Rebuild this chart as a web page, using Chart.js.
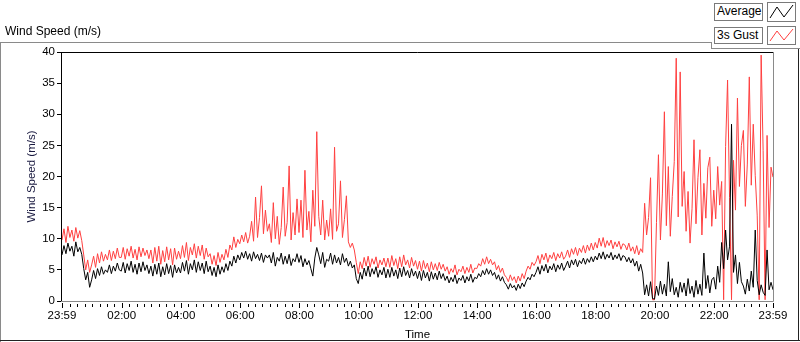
<!DOCTYPE html>
<html>
<head>
<meta charset="utf-8">
<script src="https://cdn.jsdelivr.net/npm/chart.js@4.4.1/dist/chart.umd.min.js"></script>
<style>
  body { margin: 0; background: #fff; }
  #wrap { position: relative; width: 800px; height: 342px; overflow: hidden; font-family: "Liberation Sans", Arial, sans-serif; }
  #chart { position: absolute; left: 0; top: 0; }
  .ln { position: absolute; }
  .lg { position: absolute; box-sizing: border-box; border: 1px solid #7a7a7a; background: #fff; font-size: 12px; line-height: 15px; padding-left: 2px; color: #000; }
  .ic { position: absolute; box-sizing: border-box; border: 1px solid #7a7a7a; background: #fff; }
  #title { position: absolute; left: 5px; top: 24px; font-size: 12px; color: #000; }
</style>
</head>
<body>
<div id="wrap">
  <canvas id="chart" width="800" height="342"></canvas>
  <!-- marco exterior -->
  <div class="ln" style="left:0;top:42px;width:711px;height:1px;background:#8a8a8a"></div>
  <div class="ln" style="left:0;top:42px;width:1px;height:300px;background:#8a8a8a"></div>
  <div class="ln" style="left:0;top:340px;width:800px;height:1px;background:#222"></div>
  <div class="ln" style="left:798px;top:49px;width:1px;height:292px;background:#222"></div>
  <div class="ln" style="left:711px;top:42px;width:1px;height:7px;background:#8a8a8a"></div>
  <div class="ln" style="left:711px;top:48px;width:89px;height:1px;background:#8a8a8a"></div>
  <div id="title">Wind Speed (m/s)</div>
  <!-- leyenda -->
  <div class="lg" style="left:714px;top:3px;width:49px;height:18px">Average</div>
  <div class="ic" style="left:767px;top:2px;width:29px;height:20px">
    <svg width="27" height="18"><polyline points="2,15 9,4 16,14 25,2" fill="none" stroke="#000" stroke-width="1"/></svg>
  </div>
  <div class="lg" style="left:714px;top:27px;width:49px;height:17px">3s Gust</div>
  <div class="ic" style="left:767px;top:26px;width:29px;height:19px">
    <svg width="27" height="17"><polyline points="2,14 9,4 16,13 25,2" fill="none" stroke="#ff4040" stroke-width="1"/></svg>
  </div>
</div>
<script>
// Datos: una muestra cada 4 minutos desde las 23:59 (minuto 0) hasta las 23:59 (minuto 1440)
// Cada fila = 1 hora (15 muestras)
const stepMin = 4;

const avgSpeed = [
  7.4, 8.9, 7.6, 9.3, 8.0, 8.8, 7.2, 9.5, 7.9, 8.6, 7.5, 5.2, 3.4, 4.6, 2.2,
  3.4, 4.9, 3.6, 5.2, 4.1, 5.5, 4.3, 5.0, 4.6, 5.8, 4.4, 5.6, 4.8, 6.1, 5.0,
  4.8, 6.2, 4.5, 6.0, 4.9, 6.4, 4.6, 5.9, 4.3, 6.1, 4.7, 6.3, 4.9, 5.8, 4.4,
  5.6, 4.0, 5.9, 4.3, 6.1, 3.9, 5.5, 4.2, 6.0, 4.4, 5.7, 3.8, 5.8, 4.5, 5.4,
  4.5, 6.2, 4.8, 6.5, 4.3, 6.0, 5.0, 6.6, 4.6, 6.3, 4.9, 6.1, 4.4, 6.4, 4.7,
  5.6, 4.1, 5.4, 3.9, 5.8, 4.3, 5.5, 4.6, 6.0, 4.9, 6.4, 5.6, 7.2, 6.1, 7.4,
  6.6, 7.8, 6.9, 8.0, 6.7, 7.6, 6.4, 7.9, 6.8, 7.5, 6.5, 7.7, 6.2, 7.4, 6.9,
  7.4, 6.1, 7.8, 5.6, 7.0, 6.4, 7.7, 5.9, 7.2, 6.0, 7.5, 5.7, 6.8, 6.3, 7.6,
  6.2, 7.3, 5.5, 6.8, 5.8, 6.5, 5.2, 4.0, 6.9, 8.6, 7.4, 6.0, 7.8, 5.4, 6.7,
  6.4, 7.7, 5.9, 7.4, 6.1, 7.0, 5.8, 7.6, 6.2, 6.9, 5.6, 6.4, 5.3, 5.8, 3.6,
  2.8, 4.6, 3.5, 5.3, 4.0, 5.6, 3.9, 5.2, 4.3, 5.5, 3.8, 5.0, 4.2, 5.4, 3.7,
  5.1, 3.8, 5.4, 4.0, 5.0, 3.6, 5.3, 3.9, 5.5, 4.1, 4.9, 3.7, 5.2, 4.0, 4.8,
  3.6, 4.8, 3.3, 4.9, 3.7, 4.6, 3.2, 4.7, 3.5, 4.5, 3.4, 4.8, 3.6, 4.4, 3.3,
  4.0, 2.9, 3.8, 3.1, 4.2, 2.8, 3.7, 3.3, 4.1, 2.9, 3.9, 3.2, 4.3, 3.0, 3.8,
  3.6, 4.4, 3.9, 4.9, 4.2, 5.2, 4.3, 5.0, 4.1, 4.6, 3.5, 4.2, 3.2, 3.9, 3.0,
  2.6, 1.9, 2.8, 2.1, 2.5, 1.7, 2.7, 2.0, 2.9, 2.3, 3.2, 3.8, 3.4, 4.3, 3.9,
  4.6, 5.5, 4.3, 5.7, 4.8, 5.9, 4.5, 5.6, 5.0, 6.0, 4.7, 5.8, 5.1, 6.1, 4.9,
  5.6, 6.4, 5.3, 6.6, 5.8, 6.7, 5.5, 6.5, 6.0, 6.9, 5.9, 6.8, 6.2, 7.1, 6.3,
  7.2, 6.6, 7.7, 6.8, 7.9, 6.7, 7.5, 6.9, 7.8, 6.6, 7.4, 6.8, 7.6, 6.5, 7.3,
  7.1, 6.3, 7.0, 6.1, 6.8, 5.6, 6.4, 4.8, 5.9, 4.5, 1.0, 2.6, 0.8, 3.1, 0.4,
  0.3, 2.4, 0.9, 3.2, 1.1, 2.7, 0.8, 6.3, 1.5, 3.6, 1.0, 2.2, 0.6, 3.0, 1.4,
  2.9, 0.8, 3.6, 1.2, 2.4, 0.6, 3.3, 1.1, 2.7, 0.9, 7.7, 2.0, 4.1, 1.3, 3.4,
  3.8, 1.9, 5.6, 3.0, 9.4, 5.2, 11.4, 6.6, 8.8, 28.4, 4.6, 7.4, 2.8, 6.2, 3.1,
  2.4, 1.1, 3.5, 1.6, 4.8, 2.2, 11.4, 3.3, 1.0, 2.6, 1.4, 0.9, 8.2, 1.8, 3.0,
  1.8
];

const gustSpeed = [
  9.8, 11.6, 9.4, 12.0, 10.2, 11.4, 9.6, 11.8, 10.1, 11.3, 9.7, 7.4, 5.0, 6.6, 4.6,
  5.8, 7.2, 5.4, 7.6, 6.1, 7.9, 6.4, 7.5, 6.6, 8.2, 6.5, 8.0, 6.8, 8.5, 7.0,
  7.0, 8.6, 6.7, 8.4, 7.2, 8.8, 6.9, 8.3, 6.6, 8.7, 7.1, 8.5, 7.3, 8.2, 6.8,
  8.2, 6.1, 8.6, 6.4, 8.8, 5.9, 8.1, 6.3, 8.7, 6.6, 8.4, 5.8, 8.5, 6.7, 8.0,
  6.8, 8.9, 7.0, 9.4, 6.5, 8.6, 7.4, 9.2, 6.9, 8.8, 7.3, 9.0, 6.7, 8.5, 7.1,
  7.6, 5.9, 7.3, 5.7, 7.8, 6.2, 7.5, 6.6, 8.3, 7.0, 9.0, 8.2, 10.3, 8.6, 9.9,
  9.2, 10.6, 9.5, 11.0, 9.3, 10.4, 12.8, 9.6, 16.7, 10.2, 13.4, 18.5, 10.8, 14.6, 11.2,
  12.4, 9.4, 15.8, 10.0, 13.6, 9.1, 11.8, 18.3, 10.4, 12.6, 21.7, 9.8, 14.2, 10.6, 16.4,
  11.0, 16.2, 10.2, 21.0, 11.4, 14.4, 9.5, 17.8, 12.0, 27.2, 13.6, 10.6, 16.2, 9.8, 13.0,
  10.4, 14.8, 9.9, 24.7, 11.2, 12.4, 19.3, 10.2, 13.1, 16.9, 9.5, 8.6, 9.3, 8.2, 6.2,
  4.4, 6.3, 5.2, 7.0, 5.6, 7.2, 5.4, 6.8, 5.9, 7.1, 5.3, 6.6, 5.8, 6.9, 5.5,
  6.9, 5.4, 7.3, 5.7, 6.8, 5.2, 7.1, 5.5, 7.4, 5.8, 6.6, 5.3, 7.0, 5.6, 6.5,
  5.1, 6.4, 4.8, 6.5, 5.2, 6.1, 4.7, 6.3, 5.0, 6.0, 4.9, 6.2, 5.1, 5.9, 4.8,
  5.5, 4.3, 5.2, 4.6, 5.8, 4.2, 5.1, 4.7, 5.6, 4.4, 5.4, 4.6, 5.9, 4.5, 5.3,
  5.2, 6.0, 5.6, 6.8, 5.9, 7.1, 6.0, 6.7, 5.8, 6.3, 5.0, 5.7, 4.6, 5.3, 4.2,
  3.8, 3.1, 4.2, 3.3, 3.9, 2.9, 4.0, 3.2, 4.4, 3.6, 4.8, 5.6, 5.1, 6.2, 5.7,
  6.3, 7.3, 6.0, 7.5, 6.6, 7.7, 6.2, 7.4, 6.8, 7.8, 6.5, 7.6, 6.9, 7.9, 6.7,
  7.2, 8.2, 7.0, 8.4, 7.5, 8.6, 7.3, 8.5, 7.8, 8.9, 7.7, 9.0, 8.1, 9.3, 8.2,
  9.4, 8.5, 10.1, 8.8, 10.2, 8.6, 9.7, 8.9, 9.8, 8.4, 9.5, 8.7, 9.6, 8.3, 9.2,
  9.0, 8.2, 9.3, 8.0, 8.7, 7.6, 8.9, 7.4, 8.4, 7.8, 15.7, 10.6, 13.4, 19.8, 0.2,
  0.2, 12.6, 23.5, 9.8, 17.2, 30.4, 12.1, 21.6, 10.4, 16.8, 22.4, 39.0, 13.5, 36.8, 15.2,
  20.8, 11.2, 17.6, 9.3, 14.8, 25.9, 12.4, 19.8, 24.3, 10.6, 18.9, 13.3, 21.4, 23.1, 12.0,
  17.8, 13.2, 21.6, 15.4, 19.2, 0.2, 24.8, 35.5, 16.6, 0.2, 22.6, 14.6, 32.6, 18.4, 25.0,
  27.4, 15.2, 22.0, 36.0, 18.6, 28.4, 20.2, 13.8, 0.2, 39.5, 24.2, 0.2, 26.6, 11.8, 21.5,
  19.9
];

// Marcas del eje de tiempo (minutos desde las 23:59) y sus etiquetas
const tickMinutes = [0, 121, 241, 361, 481, 601, 721, 841, 961, 1081, 1201, 1321, 1440];
const tickLabels = ['23:59', '02:00', '04:00', '06:00', '08:00', '10:00', '12:00',
                    '14:00', '16:00', '18:00', '20:00', '22:00', '23:59'];

const fontAxis = { family: 'Liberation Sans', size: 11.5 };

function toPoints(arr) {
  return arr.map((v, i) => ({ x: i * stepMin, y: v }));
}

// Marco del área de trazado y marcas menores del eje X
const framePlugin = {
  id: 'frame',
  afterDraw(chart) {
    const { ctx, chartArea: a } = chart;
    const xs = chart.scales.x;
    ctx.save();
    ctx.lineWidth = 1;
    ctx.strokeStyle = '#000';
    ctx.beginPath();
    ctx.moveTo(a.left - 0.5, a.bottom);
    ctx.lineTo(a.left - 0.5, a.top + 0.5);
    ctx.lineTo(a.right, a.top + 0.5);
    ctx.stroke();
    ctx.strokeStyle = '#8a8a8a';
    ctx.beginPath();
    ctx.moveTo(a.right + 0.5, a.top);
    ctx.lineTo(a.right + 0.5, a.bottom + 0.5);
    ctx.lineTo(a.left - 1, a.bottom + 0.5);
    ctx.stroke();
    // marcas
    ctx.strokeStyle = '#000';
    ctx.beginPath();
    for (let m = 1; m < 1440; m += 15) {
      const px = Math.round(xs.getPixelForValue(m)) + 0.5;
      ctx.moveTo(px, a.bottom + 3);
      ctx.lineTo(px, a.bottom + 6);
    }
    tickMinutes.forEach(m => {
      const px = Math.round(xs.getPixelForValue(m)) + 0.5;
      ctx.moveTo(px, a.bottom + 2);
      ctx.lineTo(px, a.bottom + 7);
    });
    ctx.stroke();
    ctx.restore();
  }
};

new Chart(document.getElementById('chart'), {
  type: 'line',
  data: {
    datasets: [
      { label: 'Average', data: toPoints(avgSpeed), borderColor: '#000000', borderWidth: 1, pointRadius: 0, tension: 0 },
      { label: '3s Gust', data: toPoints(gustSpeed), borderColor: '#ff4040', borderWidth: 1, pointRadius: 0, tension: 0 }
    ]
  },
  options: {
    responsive: false,
    animation: false,
    layout: { padding: { left: 0, top: 52, right: 27, bottom: 0 } },
    plugins: { legend: { display: false }, tooltip: { enabled: false } },
    scales: {
      x: {
        type: 'linear',
        min: 0,
        max: 1440,
        afterBuildTicks: axis => { axis.ticks = tickMinutes.map(v => ({ value: v })); },
        afterFit: s => { s.height = 41; },
        ticks: {
          autoSkip: false,
          maxRotation: 0,
          padding: 2,
          color: '#000',
          font: fontAxis,
          callback: (v, i) => tickLabels[i]
        },
        grid: { drawOnChartArea: false, drawTicks: true, tickLength: 6, color: 'rgba(0,0,0,0)' },
        border: { display: false },
        title: { display: true, text: 'Time', color: '#000', font: fontAxis, padding: { top: 3, bottom: 0 } }
      },
      y: {
        min: 0,
        max: 40,
        afterFit: s => { s.width = 62; },
        ticks: { stepSize: 5, color: '#000', font: fontAxis, padding: 2 },
        grid: { drawOnChartArea: false, drawTicks: true, tickLength: 5, color: '#000' },
        border: { display: false },
        title: { display: true, text: 'Wind Speed (m/s)', color: '#1a1a40', font: fontAxis, padding: { top: 25, bottom: 0 } }
      }
    }
  },
  plugins: [framePlugin]
});
</script>
</body>
</html>
